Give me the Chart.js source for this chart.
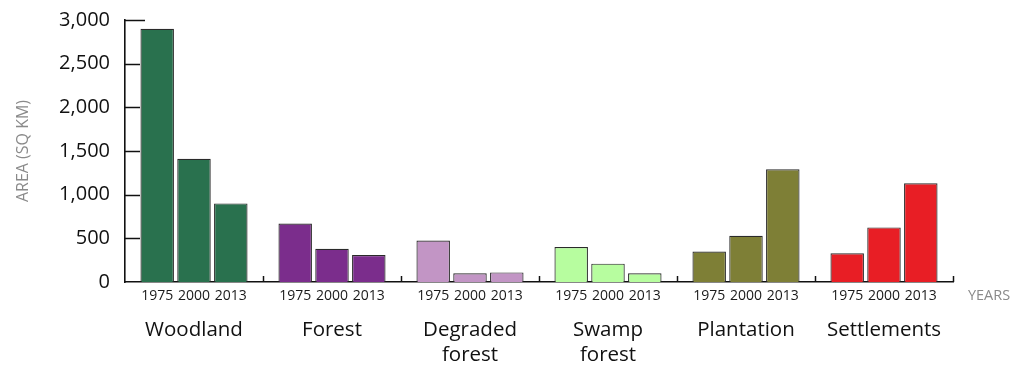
<!DOCTYPE html>
<html>
<head>
<meta charset="utf-8">
<script src="https://cdn.jsdelivr.net/npm/chart.js@4/dist/chart.umd.min.js"></script>
<style>
html,body{margin:0;padding:0;background:#fff;}
#c{display:block;}
</style>
</head>
<body>
<canvas id="c" width="1028" height="366"></canvas>
<script>
const categories = [['Woodland'], ['Forest'], ['Degraded', 'forest'], ['Swamp', 'forest'], ['Plantation'], ['Settlements']];
const years = ['1975', '2000', '2013'];
const values1975 = [2900, 670, 475, 400, 350, 330];
const values2000 = [1410, 380, 100, 210, 530, 625];
const values2013 = [900, 310, 110, 100, 1290, 1130];
const categoryColors = ['#29714e', '#7b2d8c', '#c295c5', '#b7fd9f', '#7e7f36', '#e81e25'];
const yTicks = [0, 500, 1000, 1500, 2000, 2500, 3000];
const yTitle = 'AREA (SQ KM)';
const xUnit = 'YEARS';

const FONT = '"Open Sans", "DejaVu Sans", sans-serif';
const seriesValues = [values1975, values2000, values2013];

const decorPlugin = {
  id: 'decor',
  afterDraw(chart) {
    const ctx = chart.ctx;
    const xs = chart.scales.x, ys = chart.scales.y;
    const bottom = ys.getPixelForValue(0);
    ctx.save();
    // year labels under each bar
    ctx.font = '14px ' + FONT;
    ctx.fillStyle = '#1a1a1a';
    ctx.textAlign = 'center';
    ctx.textBaseline = 'middle';
    chart.data.datasets.forEach((ds, di) => {
      const meta = chart.getDatasetMeta(di);
      meta.data.forEach(el => {
        ctx.fillText(ds.label, el.x, bottom + 14);
      });
    });
    // upward ticks at group boundaries
    ctx.strokeStyle = '#111';
    ctx.lineWidth = 1.5;
    const w = (xs.right - xs.left) / categories.length;
    for (let k = 1; k <= categories.length; k++) {
      const x = Math.round(xs.left + k * w) + 0.5;
      ctx.beginPath();
      ctx.moveTo(x, bottom);
      ctx.lineTo(x, bottom - 6);
      ctx.stroke();
    }
    // inward y ticks
    yTicks.forEach(v => {
      if (v === 0) return;
      const y = Math.round(ys.getPixelForValue(v)) + 0.5;
      ctx.beginPath();
      ctx.moveTo(ys.right, y);
      ctx.lineTo(ys.right + (v === 3000 ? 20 : 15), y);
      ctx.stroke();
    });
    // units label
    ctx.font = '14.5px ' + FONT;
    ctx.fillStyle = '#8a8a8a';
    ctx.textAlign = 'center';
    ctx.fillText(xUnit, 989, bottom + 14);
    ctx.restore();
  }
};

new Chart(document.getElementById('c'), {
  type: 'bar',
  data: {
    labels: categories,
    datasets: years.map((yr, i) => ({
      label: yr,
      data: seriesValues[i],
      backgroundColor: categoryColors,
      borderColor: '#2a2a2a',
      borderWidth: 1.2,
      borderSkipped: 'bottom',
      categoryPercentage: 0.8,
      barPercentage: 0.91
    }))
  },
  options: {
    responsive: false,
    animation: false,
    layout: { padding: { left: 14, right: 75, top: 20, bottom: 0 } },
    plugins: { legend: { display: false }, tooltip: { enabled: false } },
    scales: {
      x: {
        grid: { display: false, drawTicks: false },
        border: { display: true, color: '#111', width: 1.6 },
        ticks: {
          color: '#111',
          font: { family: FONT, size: 20.5, lineHeight: 1.22 },
          padding: 36,
          maxRotation: 0,
          autoSkip: false
        },
        afterFit(scale) { scale.height = 84; scale.paddingLeft = 0; scale.paddingRight = 0; }
      },
      y: {
        min: 0,
        max: 3000,
        grid: { display: false, drawTicks: false },
        border: { display: true, color: '#111', width: 1.6 },
        afterBuildTicks(scale) { scale.ticks = yTicks.map(v => ({ value: v })); },
        ticks: {
          color: '#111',
          font: { family: FONT, size: 20 },
          padding: 15,
          callback: v => v.toLocaleString('en-US')
        },
        title: {
          display: true,
          text: yTitle,
          color: '#8a8a8a',
          font: { family: FONT, size: 16 },
          padding: 0
        },
        afterFit(scale) { scale.width = 111; scale.paddingTop = 0; scale.paddingBottom = 0; }
      }
    }
  },
  plugins: [decorPlugin]
});
</script>
</body>
</html>
